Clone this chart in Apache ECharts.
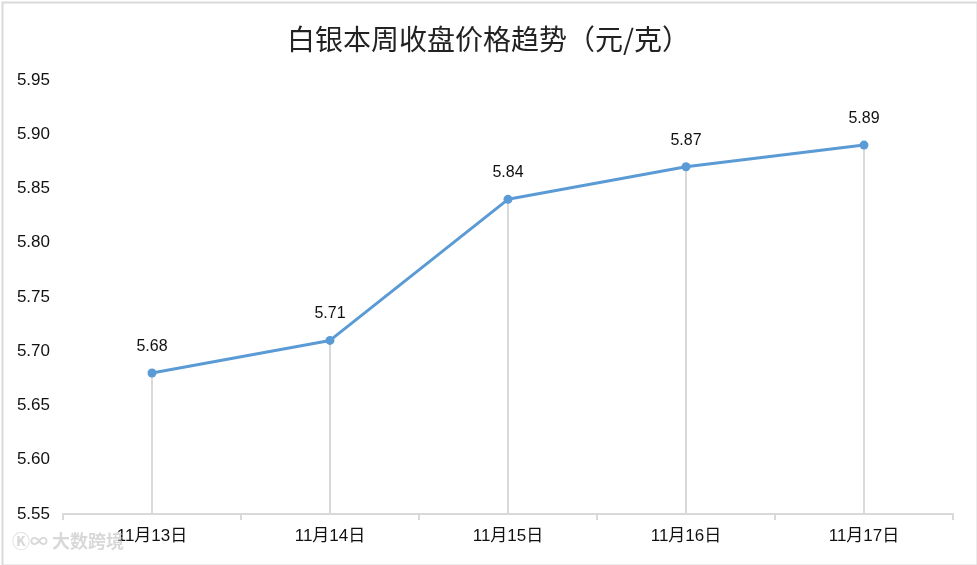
<!DOCTYPE html>
<html><head><meta charset="utf-8">
<script src="https://cdn.jsdelivr.net/npm/echarts@6/dist/echarts.min.js"></script>
<style>html,body{margin:0;padding:0;background:#fff}#c{width:977px;height:565px}</style>
</head><body><div id="c"></div>
<script>
var titleText = '白银本周收盘价格趋势（元/克）';
var categories = ['11月13日', '11月14日', '11月15日', '11月16日', '11月17日'];
var prices = [5.68, 5.71, 5.84, 5.87, 5.89];
var yTicks = { min: 5.55, max: 5.95, interval: 0.05 };

var chart = echarts.init(document.getElementById('c'), null, { renderer: 'canvas' });
var font = '"Liberation Sans", "Noto Sans CJK SC", sans-serif';
chart.setOption({
  animation: false,
  backgroundColor: '#fff',
  title: {
    text: titleText, left: 'center', top: 20,
    textStyle: { fontFamily: '"Noto Sans CJK SC", sans-serif', fontSize: 28, fontWeight: 'normal', color: '#222' }
  },
  grid: { left: 63, right: 24, top: 80, bottom: 51 },
  xAxis: {
    type: 'category', data: categories, boundaryGap: true,
    axisLine: { lineStyle: { color: '#d9d9d9', width: 2 } },
    axisTick: { show: true, length: 6, lineStyle: { color: '#d9d9d9', width: 2 } },
    axisLabel: { color: '#111', fontSize: 17, margin: 14, fontFamily: font }
  },
  yAxis: {
    type: 'value', min: yTicks.min, max: yTicks.max, interval: yTicks.interval,
    splitLine: { show: false }, axisLine: { show: false }, axisTick: { show: false },
    axisLabel: { color: '#111', fontSize: 17, margin: 13, fontFamily: font,
      formatter: function (v) { return v.toFixed(2); } }
  },
  series: [
    {
      type: 'bar', data: prices, barWidth: 2, silent: true,
      itemStyle: { color: '#d9d9d9' }, z: 1
    },
    {
      type: 'line', data: prices, barGap: '-100%',
      symbol: 'circle', symbolSize: 9,
      lineStyle: { color: '#5b9bd5', width: 3 },
      itemStyle: { color: '#5b9bd5' },
      label: { show: true, position: 'top', distance: 14, color: '#111', fontSize: 16, fontFamily: font,
        formatter: function (p) { return p.value.toFixed(2); } },
      z: 3
    }
  ],
  graphic: [
    { type: 'rect', left: 0, top: 0, z: 100, silent: true,
      shape: { x: 1, y: 1, width: 975, height: 563 },
      style: { fill: null, stroke: '#d9d9d9', lineWidth: 2 } },
    { type: 'text', left: 12, top: 532, z: 100, silent: true,
      style: { text: 'Ⓚ∞ 大数跨境', fill: 'rgba(190,190,190,0.6)', font: 'bold 18px "Noto Sans CJK SC", sans-serif' } }
  ]
});
</script></body></html>
